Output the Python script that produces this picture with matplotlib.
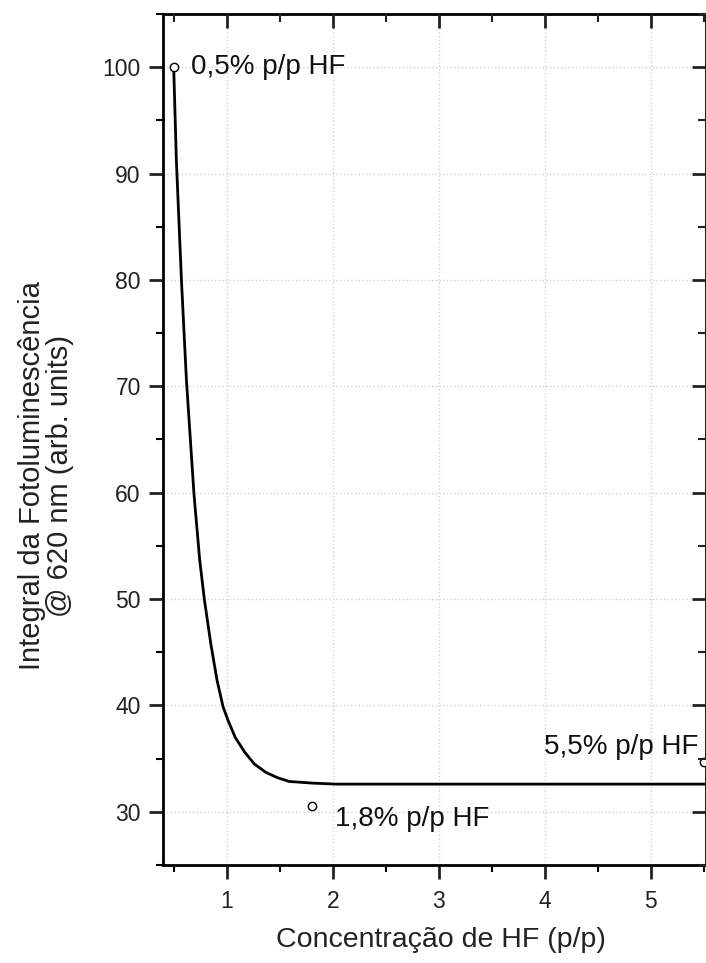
import matplotlib.pyplot as plt
from matplotlib.ticker import MultipleLocator

plt.rcParams['font.family'] = ['Liberation Sans', 'DejaVu Sans']

# medidas de PL integrada
conc = [0.5, 1.8, 5.5]
pl = [100.0, 30.5, 34.7]
rotulos = ['0,5% p/p HF', '1,8% p/p HF', '5,5% p/p HF']
pos_rotulos = [(0.66, 100.0), (2.02, 29.3), (3.99, 36.1)]

# curva de decaimento (ajuste)
fit_x = [0.50, 0.525, 0.573, 0.62, 0.691, 0.745, 0.79, 0.85, 0.908, 0.965,
         1.012, 1.08, 1.17, 1.26, 1.37, 1.48, 1.59, 1.80, 2.03, 5.52]
fit_y = [100.0, 91.3, 80.0, 70.6, 59.9, 53.7, 49.9, 45.8, 42.4, 39.9,
         38.6, 37.0, 35.6, 34.5, 33.7, 33.2, 32.85, 32.7, 32.6, 32.6]

xlim = (0.4, 5.52)
ylim = (25, 105)
rect = [0.231, 0.1018, 0.769, 0.8837]

fig = plt.figure(figsize=(7.06, 9.63), dpi=100)
ax = fig.add_axes(rect)

ax.plot(fit_x, fit_y, color='black', lw=2.0, zorder=3)
ax.plot(conc, pl, 'o', mfc='white', mec='black', ms=6, mew=1.0, zorder=4,
        clip_on=False)

for txt, (tx, ty) in zip(rotulos, pos_rotulos):
    ax.text(tx, ty, txt, fontsize=20, ha='left', va='center', color='#111111')


def eixos(a):
    a.set_xlim(*xlim)
    a.set_ylim(*ylim)
    a.xaxis.set_major_locator(MultipleLocator(1))
    a.xaxis.set_minor_locator(MultipleLocator(0.5))
    a.yaxis.set_major_locator(MultipleLocator(10))
    a.yaxis.set_minor_locator(MultipleLocator(5))


eixos(ax)
ax.grid(True, which='major', color='#d2d2d2', linestyle=':', linewidth=1.0)

for s in ax.spines.values():
    s.set_linewidth(2.0)

ax.tick_params(axis='both', which='major', labelsize=16.5, width=2.0,
               length=10, pad=6, direction='out', colors='#222222')
ax.tick_params(axis='both', which='minor', width=1.5, length=5, direction='out')
ax.tick_params(axis='x', which='major', pad=8)

# ticks espelhados (topo e direita) para dentro
ax2 = fig.add_axes(rect, frameon=False)
ax2.patch.set_visible(False)
eixos(ax2)
ax2.tick_params(which='both', direction='in', bottom=False, left=False,
                top=True, right=True, labelbottom=False, labelleft=False,
                colors='#222222')
ax2.tick_params(which='major', width=2.0, length=10)
ax2.tick_params(which='minor', width=1.5, length=6)

fig.text(0.065, 0.506, 'Integral da Fotoluminescência\n@ 620 nm (arb. units)',
         rotation=90, ha='center', va='center', multialignment='center',
         fontsize=21, color='#222222', linespacing=1.0)
fig.text(0.625, 0.024, 'Concentração de HF (p/p)', ha='center', va='center',
         fontsize=20.5, color='#222222')

fig.savefig('out.png', dpi=100)
